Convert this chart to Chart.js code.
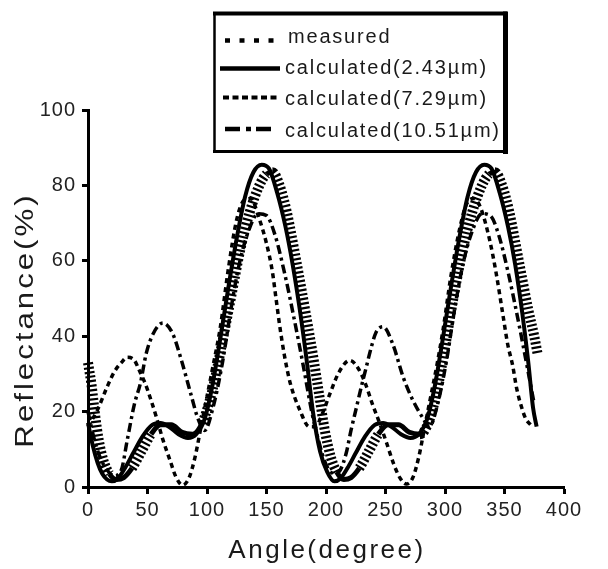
<!DOCTYPE html>
<html>
<head>
<meta charset="utf-8">
<title>Reflectance vs angle</title>
<script src="https://cdn.jsdelivr.net/npm/chart.js@4.4.0/dist/chart.umd.min.js"></script>
<style>
  body { margin: 0; background: #fff; }
  canvas { display: block; }
</style>
</head>
<body>
<canvas id="canvas-chart" width="608" height="569"></canvas>
<script>
// angle (degree) and reflectance (%) for every curve
const measuredAngle = [0, 8, 16, 22, 28, 33, 39, 43, 48, 53, 57.5, 63, 69, 74, 79.5, 85, 90, 95, 100, 105, 111, 118, 125, 131, 137, 143, 150, 155, 158, 161, 165, 170, 178, 186, 191, 197, 203, 211, 220, 227, 233, 239, 245, 251, 257, 262, 267.5, 273, 278, 283, 288, 293, 298.5, 305, 312, 318, 324, 330, 337.6, 343, 348.5, 352.6, 357, 360, 364.5, 368, 372];
const measuredVal = [16, 20.5, 26.5, 30.5, 33, 34.4, 33.6, 31, 27.5, 23, 18.5, 12.5, 7, 2.6, 0.5, 2.5, 8, 16, 24, 32, 42, 58, 71, 76, 76.5, 72, 64.6, 57, 50, 43, 35, 27.5, 20.4, 16, 16, 19.5, 24.5, 30.5, 33.6, 31.5, 27.5, 22, 17, 11.6, 6, 2.5, 0.8, 2.5, 8, 16, 24, 32, 42, 56, 68, 75, 76.5, 74, 65.4, 56.7, 46, 38, 32, 26.5, 21, 18, 16.5];

const calc243Angle = [0, 4, 8, 12, 16, 20, 25, 31, 38, 46, 54, 61, 68, 76, 84, 91, 98, 104, 111, 118, 125, 132, 139, 146, 152, 159, 166, 172, 178, 184, 189, 195, 201, 207, 212, 218, 225, 233, 241, 248, 255, 263, 271, 278, 285, 291, 298, 305, 312, 319, 326, 333, 339, 346, 353, 359, 365, 370, 374, 377];
const calc243Val = [17, 11, 6.5, 3.5, 2, 1.5, 2.2, 5, 9, 13.5, 16.5, 17, 16, 14, 13, 14, 18, 26, 39, 53, 66, 77, 83.5, 85.5, 84.5, 78, 69, 59, 47, 33, 20, 9.5, 4, 1.5, 2.2, 5, 9, 13.5, 16.5, 17, 16, 14, 13, 14, 18, 26, 39, 53, 66, 77, 83.5, 85.5, 84.5, 78, 69, 59, 46, 33, 21, 16];

const calc729Angle = [0, 3, 6, 9, 13, 18, 24, 30, 37, 45, 53, 61, 70, 79, 88, 96, 104, 112, 120, 128, 136, 144, 150, 155, 161, 167, 175, 183, 189, 194, 199, 204, 209, 215, 221, 228, 236, 244, 252, 261, 270, 279, 286, 293, 300, 307, 315, 323, 331, 337, 342, 348, 354, 362, 370, 375, 378];
const calc729Val = [33, 27, 19, 12.5, 7, 3.5, 2, 2.5, 5, 9.5, 14, 16.5, 16.5, 14.5, 14, 17, 25, 37, 50, 63, 73, 80, 83, 83.5, 80, 73, 60, 46, 35, 25, 15, 8, 4, 2, 2.5, 5, 9.5, 14, 16.5, 16.5, 14.5, 14, 17, 25, 37, 50, 63, 73, 80, 83, 83.5, 80, 73, 60, 47, 40, 35];

const calc1051Angle = [0, 5, 10, 16, 22, 28, 33, 39, 44, 49, 55, 63, 71, 78.5, 87, 92, 98, 105, 113, 120, 127, 135, 143, 150, 157, 165, 173, 181, 188, 194, 200, 207, 212, 217, 221, 225.5, 230, 234, 238, 242, 248, 256, 265, 273, 281, 287, 293, 301, 308, 315, 323, 331, 338, 345, 353, 361, 369, 375];
const calc1051Val = [20, 13, 8, 4.5, 3, 4.5, 12.5, 22, 27.5, 35.5, 40.8, 43.5, 40.8, 33.6, 24, 18.5, 15, 21, 33, 47, 59, 68, 72.5, 72, 67, 57, 45, 32, 20, 12, 6, 3.5, 4.5, 9, 15, 21, 27, 32, 37, 41, 42.5, 38, 29, 23, 18.5, 16, 21, 33, 47, 59, 68, 72.5, 72, 67, 57, 45, 32, 22];

const xTicks = [0, 50, 100, 150, 200, 250, 300, 350, 400];
const yTicks = [0, 20, 40, 60, 80, 100];
const xTitle = 'Angle(degree)';
const yTitle = 'Reflectance(%)';
const seriesNames = ['measured', 'calculated(2.43µm)', 'calculated(7.29µm)', 'calculated(10.51µm)'];

const font = '"Liberation Sans", Arial, Helvetica, sans-serif';

function pts(xs, ys) {
  return xs.map((x, i) => ({ x: x, y: ys[i] }));
}

// the 7.29 curve: thick short dashes where it climbs or falls, plain where it is flat
const steep = c => Math.abs(c.p1.y - c.p0.y) > Math.abs(c.p1.x - c.p0.x) * 1.3;

// titles and the boxed legend drawn straight on the canvas
const decorations = {
  id: 'decorations',
  beforeDraw(chart) {
    chart.ctx.letterSpacing = '1px';
  },
  afterDraw(chart) {
    const c = chart.ctx;
    c.save();
    c.fillStyle = '#1a1a1a';
    c.textBaseline = 'alphabetic';

    c.font = '26px ' + font;
    c.letterSpacing = '2.5px';
    c.textAlign = 'center';
    c.fillText(xTitle, 327, 558);

    c.save();
    c.translate(33, 320);
    c.rotate(-Math.PI / 2);
    c.scale(1.2, 1);
    c.fillText(yTitle, 0, 0);
    c.restore();

    // legend box
    c.fillStyle = '#fff';
    c.fillRect(214, 13, 292, 138);
    c.strokeStyle = '#000';
    c.setLineDash([]);
    c.lineWidth = 2.5;
    c.beginPath();
    c.moveTo(214.5, 13); c.lineTo(214.5, 151.5);
    c.stroke();
    c.lineWidth = 3;
    c.beginPath();
    c.moveTo(213, 151.5); c.lineTo(507, 151.5);
    c.stroke();
    c.lineWidth = 4;
    c.beginPath();
    c.moveTo(213, 13.5); c.lineTo(507, 13.5);
    c.stroke();
    c.lineWidth = 5;
    c.beginPath();
    c.moveTo(505.5, 11.5); c.lineTo(505.5, 154);
    c.stroke();

    const samples = [
      { y: 40.5, x0: 225, x1: 276, dash: [5, 9.5], w: 4.5 },
      { y: 68.5, x0: 220, x1: 280, dash: [], w: 4.5 },
      { y: 97.5, x0: 223, x1: 280, dash: [6, 3.5], w: 4 },
      { y: 129, x0: 225, x1: 272, dash: [15, 6, 5, 5], w: 4.5 }
    ];
    const baselines = [43, 74, 105, 137];
    const textX = [288, 285, 285, 285];
    samples.forEach((s, i) => {
      c.lineWidth = s.w;
      c.lineCap = 'butt';
      c.setLineDash(s.dash);
      c.beginPath();
      c.moveTo(s.x0, s.y);
      c.lineTo(s.x1, s.y);
      c.stroke();
    });
    c.setLineDash([]);
    c.fillStyle = '#1a1a1a';
    c.font = '20px ' + font;
    c.letterSpacing = '1.8px';
    c.textAlign = 'left';
    seriesNames.forEach((name, i) => {
      c.fillText(name, textX[i], baselines[i]);
    });
    c.restore();
  }
};

const ctx = document.getElementById('canvas-chart').getContext('2d');
const myChart = new Chart(ctx, {
  type: 'line',
  data: {
    datasets: [
      {
        label: seriesNames[2],
        data: pts(calc729Angle, calc729Val),
        borderColor: '#000',
        borderWidth: 5,
        segment: {
          borderDash: c => steep(c) ? [2.2, 2.3] : [],
          borderWidth: c => steep(c) ? 10 : 5
        }
      },
      {
        label: seriesNames[3],
        data: pts(calc1051Angle, calc1051Val),
        borderColor: '#000',
        borderWidth: 3.5,
        borderDash: [9, 4, 3, 4]
      },
      {
        label: seriesNames[0],
        data: pts(measuredAngle, measuredVal),
        borderColor: '#000',
        borderWidth: 3.5,
        borderDash: [5, 4]
      },
      {
        label: seriesNames[1],
        data: pts(calc243Angle, calc243Val),
        borderColor: '#000',
        borderWidth: 4
      }
    ]
  },
  options: {
    responsive: false,
    animation: false,
    layout: { padding: { top: 110, right: 44, left: 0, bottom: 0 } },
    elements: {
      point: { radius: 0 },
      line: { cubicInterpolationMode: 'monotone', borderCapStyle: 'butt' }
    },
    datasets: { line: { clip: 12, fill: false } },
    plugins: {
      legend: { display: false },
      tooltip: { enabled: false }
    },
    scales: {
      x: {
        type: 'linear',
        min: 0,
        max: 400,
        afterBuildTicks: s => { s.ticks = xTicks.map(v => ({ value: v })); },
        afterFit: s => { s.height = 82; },
        grid: { drawOnChartArea: false, drawTicks: true, tickLength: 7, tickWidth: 3, tickColor: '#000' },
        border: { display: true, color: '#000', width: 3 },
        ticks: { color: '#222', padding: 4, maxRotation: 0, font: { family: font, size: 20 } }
      },
      y: {
        min: 0,
        max: 100,
        afterBuildTicks: s => { s.ticks = yTicks.map(v => ({ value: v })); },
        afterFit: s => { s.width = 88; },
        grid: { drawOnChartArea: false, drawTicks: true, tickLength: 6, tickWidth: 3, tickColor: '#000' },
        border: { display: true, color: '#000', width: 3 },
        ticks: { color: '#222', padding: 6, font: { family: font, size: 20 } }
      }
    }
  },
  plugins: [decorations]
});
</script>
</body>
</html>
